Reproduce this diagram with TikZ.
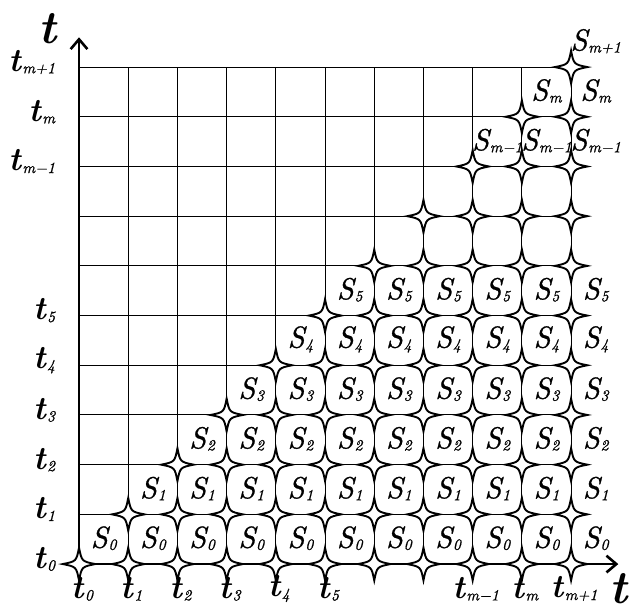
\documentclass[tikz,border=0pt]{standalone}
\usepackage{fontspec}
\usetikzlibrary{arrows.meta}
\newfontfamily\sital{lmroman10-italic.otf}[FakeBold=0.8]

% S with an italic subscript, t in bold italic
\newcommand{\subs}[1]{\raisebox{-1.2pt}{\fontsize{9}{9}\selectfont\sital #1}}
\newcommand{\Sk}[1]{{\sital S}\kern0.4pt\subs{#1}}
\newcommand{\tk}[1]{{\bfseries\itshape t}\kern0.8pt\subs{#1}}

\tikzset{
  gridline/.style={line width=0.6pt},
  axisline/.style={line width=1.5pt,-{Straight Barb[length=2mm,width=3.4mm]}},
  slab/.style={font=\fontsize{17.5}{20}\selectfont,inner sep=0pt},
  tlab/.style={font=\fontsize{19}{21}\selectfont,inner sep=0pt},
  bigt/.style={font=\fontsize{27}{30}\selectfont\bfseries\itshape,inner sep=0pt},
  sparkle/.pic={
    \draw[line width=1.1pt,fill=white] (0.33,0) .. controls (0.055,0.055) .. (0,0.33)
      .. controls (-0.055,0.055) .. (-0.33,0) .. controls (-0.055,-0.055) .. (0,-0.33)
      .. controls (0.055,-0.055) .. cycle;
  }
}

\begin{document}
\begin{tikzpicture}[x=1cm,y=1.01cm]
\useasboundingbox (-1.606,-0.845) rectangle (11.36,11.35);
% grid
\foreach \k in {1,...,10} {
  \draw[gridline] (0,\k) -- (10,\k);
  \draw[gridline] (\k,0) -- (\k,10);
}
% axes
\coordinate (O) at (0,0);
\coordinate (xend) at (10.96,0);
\coordinate (yend) at (0,10.6);
\draw[axisline] (O) -- (xend);
\draw[axisline] (O) -- (yend);
% stars on and below the diagonal
\foreach \i in {0,...,10}
  \foreach \j in {0,...,\i}
    \pic at (\i,\j) {sparkle};
% S labels
\foreach \r in {0,...,5}
  \foreach \c in {\r,...,10}
    \node[slab] (s-\c-\r) at (\c+0.5,\r+0.52) {\Sk{\r}};
\foreach \r/\lab in {8/m−1,9/m,10/m+1}
  \foreach \c in {\r,...,10}
    \node[slab] (s-\c-\r) at (\c+0.5,\r+0.52) {\Sk{\lab}};
% ticks
\foreach \i/\lab in {0/0,1/1,2/2,3/3,4/4,5/5,8/m−1,9/m,10/m+1} {
  \node[tlab] (tx-\i) at (\i+0.06,-0.5) {\tk{\lab}};
  \node[tlab,anchor=east] (ty-\i) at (-0.48,\i+0.1) {\tk{\lab}};
}
\node[bigt] (taxy) at (-0.65,10.78) {t};
\node[bigt] (taxx) at (10.97,-0.5) {t};
\end{tikzpicture}
\end{document}
